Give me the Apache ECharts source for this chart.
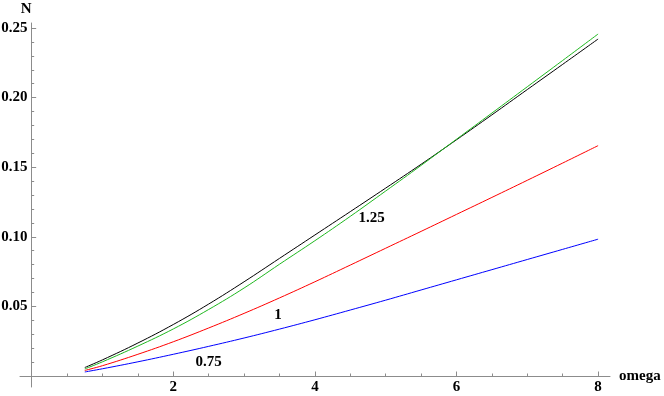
<!DOCTYPE html>
<html>
<head>
<meta charset="utf-8">
<script src="https://cdn.jsdelivr.net/npm/echarts@6/dist/echarts.min.js"></script>
<style>
html,body{margin:0;padding:0;background:#fff;}
#c{width:664px;height:396px;}
</style>
</head>
<body>
<div id="c"></div>
<script>
// ---- data ----
const omega = [0.75, 1, 1.5, 2, 2.5, 3, 3.5, 4, 4.5, 5, 5.5, 6, 6.5, 7, 7.5, 8];
const nBlack = [0.0061, 0.0116, 0.0237, 0.0370, 0.0517, 0.0677, 0.0845, 0.1013, 0.1181, 0.1350, 0.1521, 0.1697, 0.1876, 0.2058, 0.2239, 0.2421];
const nGreen = [0.0051, 0.0102, 0.0215, 0.0338, 0.0478, 0.0632, 0.0803, 0.0972, 0.1147, 0.1329, 0.1513, 0.1701, 0.1889, 0.2078, 0.2267, 0.2457];
const nRed   = [0.0040, 0.0074, 0.0156, 0.0246, 0.0345, 0.0450, 0.0561, 0.0677, 0.0797, 0.0918, 0.1039, 0.1161, 0.1283, 0.1406, 0.1530, 0.1655];
const nBlue  = [0.0029, 0.0052, 0.0102, 0.0156, 0.0213, 0.0273, 0.0337, 0.0404, 0.0474, 0.0545, 0.0618, 0.0691, 0.0764, 0.0837, 0.0910, 0.0983];

const curveLabels = ['0.75', '1', '1.25'];
const curveLabelX = [2.50, 3.48, 4.80];
const curveLabelY = [0.0103, 0.0438, 0.1133];

const xMajorTicks = [2, 4, 6, 8];
const xMinorTicks = [0.5, 1, 1.5, 2.5, 3, 3.5, 4.5, 5, 5.5, 6.5, 7, 7.5];
const yMajorTicks = [0.05, 0.10, 0.15, 0.20, 0.25];
const yMinorTicks = [0.01, 0.02, 0.03, 0.04, 0.06, 0.07, 0.08, 0.09, 0.11, 0.12, 0.13, 0.14,
                     0.16, 0.17, 0.18, 0.19, 0.21, 0.22, 0.23, 0.24];

// ---- chart ----
const FONT = "'Liberation Serif', 'Times New Roman', serif";
const AXIS_GRAY = '#8c8c8c';
const xMin = -0.165, xMax = 8.168;
const yMin = -0.0079, yMax = 0.2536;
const gridBox = {left: 20, top: 23, width: 590, height: 364, containLabel: false, outerBoundsMode: 'none'};

function zip(xs, ys) { return xs.map((x, i) => [x, ys[i]]); }

const chart = echarts.init(document.getElementById('c'), null, {renderer: 'canvas'});
chart.setOption({
  backgroundColor: '#ffffff',
  animation: false,
  grid: [Object.assign({}, gridBox), Object.assign({}, gridBox)],
  xAxis: [{
    type: 'value', gridIndex: 0, min: xMin, max: xMax,
    name: 'omega', nameLocation: 'end', nameGap: 9, nameMoveOverlap: false,
    nameTextStyle: {fontFamily: FONT, fontWeight: 'bold', fontSize: 15, color: '#000', verticalAlign: 'middle'},
    axisLine: {show: true, onZero: true, lineStyle: {color: AXIS_GRAY, width: 1}},
    axisTick: {show: true, inside: true, length: 4.5, customValues: xMajorTicks, lineStyle: {color: AXIS_GRAY, width: 1}},
    axisLabel: {show: true, customValues: xMajorTicks, margin: -7, fontFamily: FONT, fontWeight: 'bold', fontSize: 15, color: '#000', hideOverlap: false},
    splitLine: {show: false}, minorTick: {show: false}
  }, {
    type: 'value', gridIndex: 1, min: xMin, max: xMax,
    axisLine: {show: false, onZero: true},
    axisTick: {show: true, inside: true, length: 2.5, customValues: xMinorTicks, lineStyle: {color: AXIS_GRAY, width: 1}},
    axisLabel: {show: false},
    splitLine: {show: false}
  }],
  yAxis: [{
    type: 'value', gridIndex: 0, min: yMin, max: yMax,
    name: 'N', nameLocation: 'end', nameGap: 6, nameMoveOverlap: false,
    nameTextStyle: {fontFamily: FONT, fontWeight: 'bold', fontSize: 15, color: '#000', align: 'center', padding: [0, 11, 0, 0]},
    axisLine: {show: true, onZero: true, lineStyle: {color: AXIS_GRAY, width: 1}},
    axisTick: {show: true, inside: true, length: 4.5, customValues: yMajorTicks, lineStyle: {color: AXIS_GRAY, width: 1}},
    axisLabel: {show: true, customValues: yMajorTicks, margin: -7.5, fontFamily: FONT, fontWeight: 'bold', fontSize: 15, color: '#000', hideOverlap: false,
      formatter: v => v.toFixed(2)},
    splitLine: {show: false}, minorTick: {show: false}
  }, {
    type: 'value', gridIndex: 1, min: yMin, max: yMax,
    axisLine: {show: false, onZero: true},
    axisTick: {show: true, inside: true, length: 2.5, customValues: yMinorTicks, lineStyle: {color: AXIS_GRAY, width: 1}},
    axisLabel: {show: false},
    splitLine: {show: false}
  }],
  series: [
    {type: 'line', xAxisIndex: 0, yAxisIndex: 0, data: zip(omega, nBlack), smooth: 0.4, symbol: 'none',
     lineStyle: {color: '#000000', width: 1}, z: 3},
    {type: 'line', xAxisIndex: 0, yAxisIndex: 0, data: zip(omega, nGreen), smooth: 0.4, symbol: 'none',
     lineStyle: {color: '#1fb81f', width: 1}, z: 4},
    {type: 'line', xAxisIndex: 0, yAxisIndex: 0, data: zip(omega, nRed), smooth: 0.4, symbol: 'none',
     lineStyle: {color: '#ff0000', width: 1}, z: 3},
    {type: 'line', xAxisIndex: 0, yAxisIndex: 0, data: zip(omega, nBlue), smooth: 0.4, symbol: 'none',
     lineStyle: {color: '#0000ff', width: 1}, z: 3},
    {type: 'scatter', xAxisIndex: 0, yAxisIndex: 0, symbolSize: 1, itemStyle: {color: 'rgba(0,0,0,0)', opacity: 1},
     data: curveLabels.map((t, i) => ({name: t, value: [curveLabelX[i], curveLabelY[i]]})),
     label: {show: true, position: 'inside', formatter: p => p.name, fontFamily: FONT, fontWeight: 'bold', fontSize: 15,
       color: '#000', opacity: 1, textBorderWidth: 0},
     emphasis: {disabled: true}, z: 5}
  ]
});
</script>
</body>
</html>
